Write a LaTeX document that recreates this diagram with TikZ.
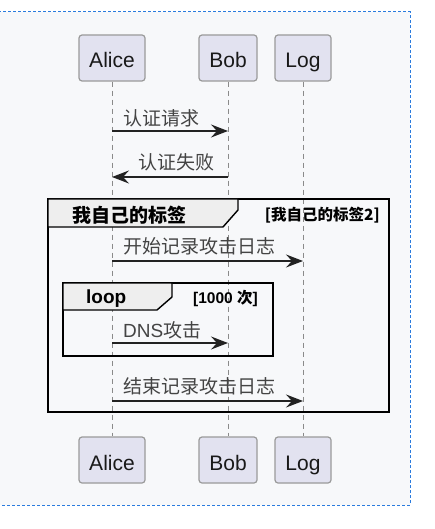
\documentclass[tikz,border=0pt]{standalone}
\usepackage{fontspec}
\setmainfont{Liberation Sans}
\newfontfamily\cjk{Noto Sans CJK SC}
\usetikzlibrary{arrows.meta}
\definecolor{pagebg}{HTML}{F7F8FA}
\definecolor{frameblue}{HTML}{2A7BDE}
\definecolor{partfill}{HTML}{E2E2F0}
\definecolor{partline}{HTML}{9A9A9A}
\definecolor{lifegrey}{HTML}{8A8A8A}
\definecolor{msgline}{HTML}{222222}
\definecolor{msgtext}{HTML}{444444}
\definecolor{tabfill}{HTML}{EEEEEE}
\begin{document}
\begin{tikzpicture}[x=1pt,y=-1pt,
    part/.style={draw=partline, fill=partfill, rounded corners=3pt, line width=1.2pt,
      minimum height=46pt, inner sep=0pt, text height=21pt, text depth=1pt,
      text=black!90, font=\fontsize{21}{24}\selectfont},
    life/.style={draw=lifegrey, dash pattern=on 5pt off 4pt, line width=1pt},
    msg/.style={draw=msgline, line width=1.2pt, -{Stealth[length=17pt,width=13pt,inset=6pt]}},
    lbl/.style={inner sep=0pt, anchor=west, text=msgtext, font=\fontsize{19}{22}\selectfont},
    grp/.style={draw=black, line width=2pt},
    tab/.style={draw=black, fill=tabfill, line width=1.4pt, line join=miter},
    grplbl/.style={inner sep=0pt, text=black, font=\fontsize{19}{22}\selectfont\bfseries},
    grpsub/.style={inner sep=0pt, anchor=east, text=black, font=\fontsize{15.5}{18}\selectfont\bfseries}]
    \useasboundingbox (0,0) rectangle (434,529);
    \draw[frameblue, fill=pagebg, line width=1pt, dash pattern=on 3pt off 2pt] (-5,12) rectangle (410,505);

    % participants, top and bottom
    \node[part, minimum width=66pt] (alice) at (112,58) {Alice};
    \node[part, minimum width=58pt] (bob) at (228,58) {Bob};
    \node[part, minimum width=56pt] (log) at (303,58) {Log};
    \node[part, minimum width=66pt] (alice2) at (112,460) {Alice};
    \node[part, minimum width=58pt] (bob2) at (228,460) {Bob};
    \node[part, minimum width=56pt] (log2) at (303,460) {Log};

    \draw[life] (alice) -- (alice2);
    \draw[life] (bob) -- (bob2);
    \draw[life] (log) -- (log2);

    % groups
    \draw[grp] (48,199) rectangle (389,412);
    \draw[tab] (48,199) -- (238,199) -- (238,210) -- (223,227) -- (48,227) -- cycle;
    \node[grplbl, anchor=west] (g1) at (72,215) {\cjk 我自己的标签};
    \node[grpsub] (g1b) at (380,215) {\cjk [我自己的标签2]};

    \draw[grp] (63,283) rectangle (273,356);
    \draw[tab] (63,283) -- (172,283) -- (172,297) -- (157,310) -- (63,310) -- cycle;
    \node[grplbl, anchor=west] (g2) at (86,299) {loop};
    \node[grpsub] (g2b) at (258,298) {[1000 {\cjk 次}]};

    % messages
    \coordinate (m1a) at (112,131);
    \coordinate (m1b) at (228,131);
    \draw[msg] (m1a) -- (m1b);
    \node[lbl] (l1) at (123,118) {\cjk 认证请求};

    \coordinate (m2b) at (228,177);
    \coordinate (m2a) at (112,177);
    \draw[msg] (m2b) -- (m2a);
    \node[lbl] (l2) at (138,162) {\cjk 认证失败};

    \coordinate (m3a) at (112,261);
    \coordinate (m3c) at (303,261);
    \draw[msg] (m3a) -- (m3c);
    \node[lbl] (l3) at (123,246.5) {\cjk 开始记录攻击日志};

    \coordinate (m4a) at (112,343);
    \coordinate (m4b) at (228,343);
    \draw[msg] (m4a) -- (m4b);
    \node[lbl] (l4) at (123,330) {DNS{\cjk 攻击}};

    \coordinate (m5a) at (112,401);
    \coordinate (m5c) at (303,401);
    \draw[msg] (m5a) -- (m5c);
    \node[lbl] (l5) at (123,386) {\cjk 结束记录攻击日志};
\end{tikzpicture}
\end{document}
